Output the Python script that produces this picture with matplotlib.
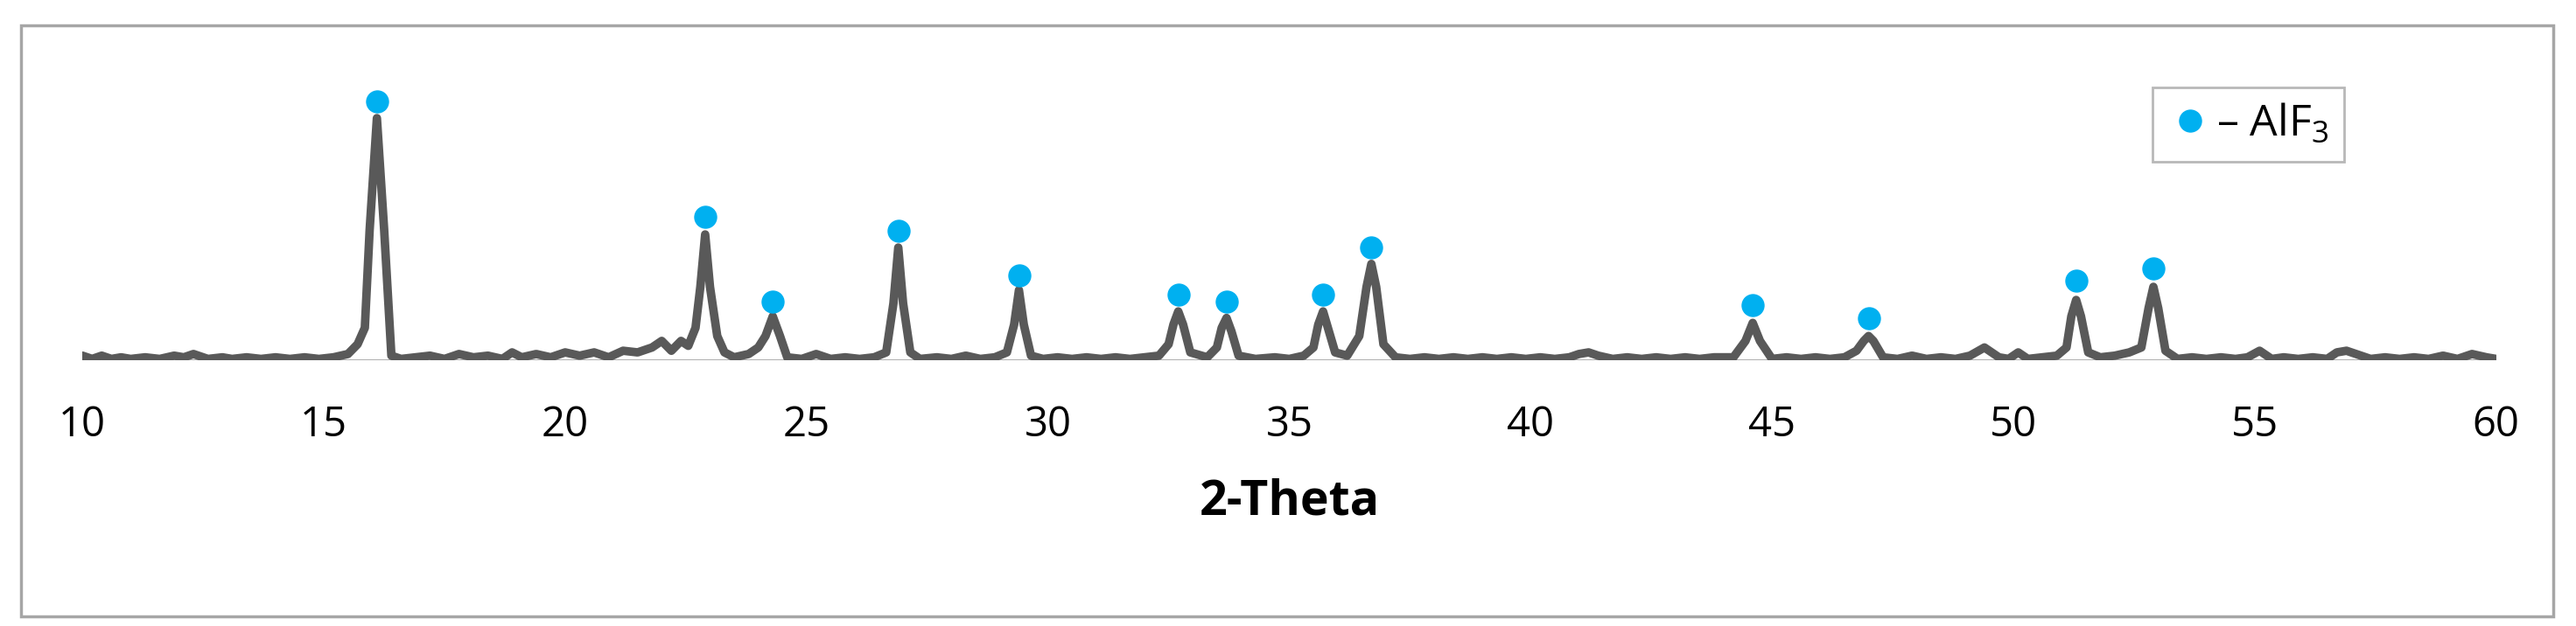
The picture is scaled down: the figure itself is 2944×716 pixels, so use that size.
import matplotlib
matplotlib.use("Agg")
import matplotlib.pyplot as plt
from matplotlib.patches import Rectangle

plt.rcParams['font.family'] = ['Open Sans', 'DejaVu Sans']
plt.rcParams['mathtext.fontset'] = 'custom'
plt.rcParams['mathtext.rm'] = 'Open Sans'

# Trace points (2-theta, intensity)
two_theta = [10.0, 10.2, 10.4, 10.6, 10.8, 11.0, 11.3, 11.6, 11.9, 12.1, 12.3, 12.6, 12.9, 13.1, 13.4,
             13.7, 14.0, 14.3, 14.6, 14.9, 15.2, 15.5, 15.7, 15.85, 15.95, 16.1, 16.25, 16.4, 16.6,
             16.9, 17.2, 17.5, 17.8, 18.1, 18.4, 18.7, 18.9, 19.1, 19.4, 19.7, 20.0, 20.3, 20.6, 20.9,
             21.2, 21.5, 21.8, 22.0, 22.2, 22.4, 22.55, 22.7, 22.8, 22.9, 23.0, 23.15, 23.3, 23.5,
             23.8, 24.0, 24.15, 24.3, 24.45, 24.6, 24.9, 25.2, 25.5, 25.8, 26.1, 26.4, 26.65, 26.8,
             26.9, 27.0, 27.15, 27.35, 27.7, 28.0, 28.3, 28.6, 28.9, 29.15, 29.3, 29.4, 29.5, 29.65,
             29.9, 30.2, 30.5, 30.8, 31.1, 31.4, 31.7, 32.0, 32.3, 32.5, 32.6, 32.7, 32.8, 32.95,
             33.3, 33.5, 33.6, 33.7, 33.8, 33.95, 34.3, 34.7, 35.0, 35.3, 35.5, 35.6, 35.7, 35.8,
             35.95, 36.2, 36.45, 36.6, 36.7, 36.8, 36.95, 37.2, 37.5, 37.8, 38.1, 38.4, 38.7, 39.0,
             39.3, 39.6, 39.9, 40.2, 40.5, 40.8, 41.0, 41.2, 41.4, 41.7, 42.0, 42.3, 42.6, 42.9,
             43.2, 43.5, 43.8, 44.2, 44.45, 44.6, 44.75, 45.0, 45.3, 45.6, 45.9, 46.2, 46.5, 46.75,
             46.9, 47.0, 47.1, 47.3, 47.6, 47.9, 48.2, 48.5, 48.8, 49.1, 49.4, 49.7, 49.9, 50.1,
             50.3, 50.6, 50.9, 51.1, 51.2, 51.3, 51.4, 51.55, 51.8, 52.1, 52.4, 52.65, 52.8, 52.9,
             53.0, 53.15, 53.4, 53.7, 54.0, 54.3, 54.6, 54.85, 55.1, 55.35, 55.6, 55.9, 56.2, 56.5,
             56.7, 56.9, 57.1, 57.4, 57.7, 58.0, 58.3, 58.6, 58.9, 59.2, 59.5, 59.8, 60.0]
intensity = [3, 1, 3, 1, 2, 1, 2, 1, 3, 2, 4, 1, 2, 1, 2,
             1, 2, 1, 2, 1, 2, 4, 10, 20, 80, 148, 80, 3, 1,
             2, 3, 1, 4, 2, 3, 1, 5, 2, 4, 2, 5, 3, 5, 2,
             6, 5, 8, 12, 6, 12, 9, 20, 45, 77, 45, 15, 5, 2,
             4, 8, 15, 27, 15, 2, 1, 4, 1, 2, 1, 2, 5, 35,
             69, 35, 5, 1, 2, 1, 3, 1, 2, 5, 22, 43, 22, 3,
             1, 2, 1, 2, 1, 2, 1, 2, 3, 10, 22, 30, 22, 5,
             2, 8, 20, 26, 18, 3, 1, 2, 1, 3, 8, 22, 30, 20,
             5, 3, 15, 45, 59, 45, 10, 2, 1, 2, 1, 2, 1, 2,
             1, 2, 1, 2, 1, 2, 4, 5, 3, 1, 2, 1, 2, 1,
             2, 1, 2, 2, 12, 23, 12, 1, 2, 1, 2, 1, 2, 6,
             12, 15, 12, 2, 1, 3, 1, 2, 1, 3, 8, 2, 1, 5,
             1, 2, 3, 8, 27, 37, 27, 5, 2, 3, 5, 8, 32, 45,
             32, 6, 1, 2, 1, 2, 1, 2, 6, 1, 2, 1, 2, 1,
             5, 6, 4, 1, 2, 1, 2, 1, 3, 1, 4, 2, 1]

# AlF3 marker positions and heights
mark_x = [16.1, 22.9, 24.3, 26.9, 29.4, 32.7, 33.7, 35.7, 36.7, 44.6, 47.0, 51.3, 52.9]
mark_y = [158, 88, 36, 79, 52, 40, 36, 40, 69, 34, 26, 49, 56]

xticks = [10, 15, 20, 25, 30, 35, 40, 45, 50, 55, 60]

fig = plt.figure(figsize=(29.44, 7.16), dpi=100)
fig.patches.append(Rectangle((0.008, 0.015), 0.983, 0.945, transform=fig.transFigure,
                             fill=False, edgecolor='#a6a6a6', linewidth=2.5))
ax = fig.add_axes([0.032, 0.424, 0.937, 0.471])
ax.plot(two_theta, intensity, color='#595959', lw=7, solid_joinstyle='round',
        solid_capstyle='round', zorder=3)
ax.axhline(0, color='#a0a0a0', lw=1.2, zorder=2)
ax.plot(mark_x, mark_y, 'o', color='#00b0f0', ms=18, ls='none', zorder=4, label='– AlF$_3$')
ax.set_xlim(10, 60)
ax.set_ylim(0, 180)
ax.set_xticks(xticks)
ax.tick_params(axis='x', length=0, labelsize=34, pad=36)
ax.set_yticks([])
for s in ax.spines.values():
    s.set_visible(False)
ax.set_xlabel('2-Theta', fontsize=40, fontweight='bold', labelpad=26)
leg = ax.legend(loc='upper right', bbox_to_anchor=(0.946, 1.0), fontsize=36, frameon=True,
                fancybox=False, edgecolor='#a6a6a6', handletextpad=0.1, borderpad=0.35,
                handlelength=1.0)
leg.get_frame().set_linewidth(2)
fig.savefig('out.png', dpi=100)
